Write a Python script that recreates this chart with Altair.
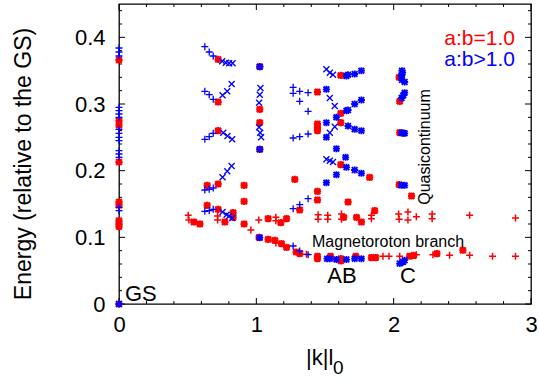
import altair as alt
import pandas as pd

# ---------------- data ----------------
RS_k = [0, 0, 0, 0, 0, 0, 0, 0, 0, 0,
        0.722, 0.722, 0.722, 0.722, 0.642, 0.642, 0.722, 0.831, 0.831, 0.771, 0.545, 0.589,
        0.911, 0.911, 0.911,
        1.025, 1.025, 1.025, 1.025, 1.02,
        1.086, 1.086, 1.178, 1.22, 1.183, 1.22, 1.29, 1.316, 1.135,
        1.28, 1.316,
        1.445, 1.445, 1.445, 1.445, 1.445, 1.445, 1.445, 1.445,
        1.54, 1.615, 1.615, 1.724, 1.838, 1.869,
        1.615, 1.615, 1.615, 1.615, 1.636,
        1.668, 1.825, 1.73, 1.765, 1.862,
        2.04, 2.044, 2.044, 2.04, 2.13,
        2.116, 2.145, 2.315, 2.504]
RS_E = [0, 0.366, 0.275, 0.268, 0.213, 0.153, 0.148, 0.125, 0.12, 0.116,
        0.367, 0.303, 0.260, 0.180, 0.178, 0.148, 0.142, 0.137, 0.130, 0.123, 0.123, 0.120,
        0.178, 0.154, 0.120,
        0.356, 0.292, 0.272, 0.232, 0.100,
        0.128, 0.097, 0.122, 0.128, 0.0905, 0.085, 0.078, 0.0757, 0.0955,
        0.187, 0.141,
        0.318, 0.27, 0.265, 0.26, 0.169, 0.156, 0.0716, 0.068,
        0.0716, 0.068, 0.0646, 0.0716, 0.0697, 0.0697,
        0.343, 0.286, 0.272, 0.209, 0.130,
        0.153, 0.190, 0.130, 0.123, 0.140,
        0.340, 0.304, 0.257, 0.179, 0.162,
        0.0716, 0.073, 0.0756, 0.0806]

RP_k = [0.504, 0.509, 0.718, 0.718, 0.96, 1.018, 1.142, 1.142, 1.142, 1.365,
        1.45, 1.45, 1.52, 1.52, 1.62, 1.62, 1.838, 1.838, 1.922, 1.966, 2.044,
        2.036, 2.04, 2.104, 2.104, 2.165, 2.165, 2.28, 2.28, 2.286, 2.407,
        2.553, 2.553, 2.72, 2.887, 2.887]
RP_E = [0.133, 0.126, 0.132, 0.126, 0.111, 0.126, 0.130, 0.125, 0.0915, 0.0746,
        0.134, 0.127, 0.133, 0.127, 0.135, 0.127, 0.133, 0.128, 0.0716, 0.0716, 0.0716,
        0.135, 0.127, 0.138, 0.126, 0.131, 0.074, 0.135, 0.128, 0.074, 0.073,
        0.133, 0.073, 0.0716, 0.129, 0.0716]

BP_k = [0, 0, 0, 0, 0, 0, 0, 0, 0, 0, 0, 0, 0, 0, 0, 0,
        0.625, 0.657, 0.686, 0.625, 0.657, 0.686, 0.625, 0.657, 0.686,
        0.625, 0.657, 0.686, 0.625, 0.657, 0.686,
        1.268, 1.268, 1.316, 1.377, 1.316, 1.377, 1.268, 1.316, 1.377,
        1.377, 1.316, 1.268, 1.268, 1.316, 1.377]
BP_E = [0.384, 0.378, 0.372, 0.295, 0.29, 0.285, 0.28, 0.262, 0.256, 0.25, 0.245,
        0.23, 0.225, 0.22, 0.145, 0.14,
        0.386, 0.378, 0.372, 0.319, 0.314, 0.307, 0.247, 0.251, 0.256,
        0.171, 0.172, 0.174, 0.139, 0.140, 0.142,
        0.325, 0.316, 0.319, 0.317, 0.304, 0.289, 0.249, 0.251, 0.255,
        0.158, 0.149, 0.143, 0.087, 0.0796, 0.074]

BX_k = [0.751, 0.778, 0.802, 0.827, 0.82, 0.788, 0.754, 0.759, 0.790, 0.824,
        0.754, 0.788, 0.82, 0.754, 0.783, 0.802, 0.824,
        1.03, 1.025, 1.02, 1.02, 1.028, 1.035,
        1.51, 1.535, 1.558, 1.535, 1.571, 1.535, 1.571, 1.51, 1.535, 1.558]
BX_E = [0.364, 0.362, 0.361, 0.361, 0.330, 0.319, 0.313, 0.257, 0.252, 0.247,
        0.190, 0.199, 0.207, 0.138, 0.134, 0.132, 0.129,
        0.324, 0.314, 0.302, 0.265, 0.257, 0.250,
        0.352, 0.347, 0.344, 0.309, 0.297, 0.257, 0.266, 0.217, 0.215, 0.213]

BS_k = [0, 1.025, 1.025, 1.025,
        1.656, 1.668, 1.716, 1.765,
        1.51, 1.656, 1.668, 1.716, 1.765,
        1.51, 1.583, 1.668, 1.716, 1.765, 1.51, 1.583,
        1.65, 1.656, 1.716, 1.765, 1.583, 1.51,
        1.515, 1.535, 1.583, 1.656, 1.716, 1.765, 2.044, 2.068, 2.08,
        2.06, 2.065, 2.056, 2.06, 2.08, 2.058, 2.07, 2.08, 2.058, 2.07, 2.08, 2.056, 2.08]
BS_E = [0, 0.356, 0.232, 0.0995,
        0.342, 0.344, 0.345, 0.350,
        0.322, 0.29, 0.291, 0.30, 0.306,
        0.272, 0.280, 0.267, 0.262, 0.26, 0.25, 0.233,
        0.22, 0.205, 0.201, 0.196, 0.194, 0.182,
        0.068, 0.068, 0.0667, 0.0667, 0.068, 0.068, 0.0607, 0.0631, 0.0657,
        0.350, 0.347, 0.342, 0.336, 0.333, 0.309, 0.313, 0.317, 0.257, 0.256, 0.256, 0.178, 0.178]

X_MAJOR = [0, 1, 2, 3]
X_MINOR = [0.2, 0.4, 0.6, 0.8, 1.2, 1.4, 1.6, 1.8, 2.2, 2.4, 2.6, 2.8]
Y_MAJOR = [0, 0.1, 0.2, 0.3, 0.4]
Y_MINOR = [0.02, 0.04, 0.06, 0.08, 0.12, 0.14, 0.16, 0.18, 0.22, 0.24, 0.26, 0.28,
           0.32, 0.34, 0.36, 0.38, 0.42, 0.44]

LEGEND = ["a:b=1.0", "a:b>1.0"]
Y_TITLE = "Energy (relative to the GS)"
X_TITLE = "|k|l"
X_TITLE_SUB = "0"

# ---------------- chart ----------------
W, H = 412, 300
FONT = "Liberation Sans"
RED, BLUE = "#ff0000", "#0000ff"
xs = alt.Scale(domain=[0, 3], nice=False, zero=False)
ys = alt.Scale(domain=[0, 0.45], nice=False, zero=False)

XAX = alt.Axis(values=X_MAJOR, format="d", title=None, grid=False, ticks=False, domain=False,
               labelFont=FONT, labelFontSize=22, labelFontWeight="normal", labelColor="black",
               labelPadding=10, labelFlush=False)
YAX = alt.Axis(values=Y_MAJOR, format=".1~f", title=None, grid=False, ticks=False, domain=False,
               labelFont=FONT, labelFontSize=22, labelFontWeight="normal", labelColor="black",
               labelPadding=14, labelFlush=False)


def X(field="k"):
    return alt.X(f"{field}:Q", scale=xs, axis=XAX)


def Y(field="E"):
    return alt.Y(f"{field}:Q", scale=ys, axis=YAX)


PLUS = "M-1,0L1,0M0,-1L0,1"
CROSS = "M-1,-1L1,1M-1,1L1,-1"
STAR = "M-1,0L1,0M0,-1L0,1M-0.8,-0.8L0.8,0.8M-0.8,0.8L0.8,-0.8"


def pts(k, e, path, color, size, sw):
    df = pd.DataFrame({"k": k, "E": e})
    return alt.Chart(df).mark_point(shape=path, filled=False, color=color, size=size,
                                    strokeWidth=sw, opacity=1).encode(x=X(), y=Y())


def xticks(vals, length):
    df = pd.DataFrame({"k": vals})
    b = alt.Chart(df).mark_rule(color="black", strokeWidth=1)
    return [b.encode(x=X(), y=alt.value(H), y2=alt.value(H - length)),
            b.encode(x=X(), y=alt.value(0), y2=alt.value(length))]


def yticks(vals, length):
    df = pd.DataFrame({"E": vals})
    b = alt.Chart(df).mark_rule(color="black", strokeWidth=1)
    return [b.encode(y=Y(), x=alt.value(0), x2=alt.value(length)),
            b.encode(y=Y(), x=alt.value(W), x2=alt.value(W - length))]


def txt(t, x, y, size, color="black", align="left", angle=0, baseline="alphabetic"):
    kw = dict(font=FONT, fontSize=size, color=color, align=align, baseline=baseline,
              fontWeight="normal")
    if angle:
        kw["angle"] = angle
    return alt.Chart(pd.DataFrame({"t": [t]})).mark_text(**kw).encode(
        text="t:N", x=alt.value(x), y=alt.value(y))


layers = []
layers += xticks(X_MAJOR, 6) + xticks(X_MINOR, 3) + yticks(Y_MAJOR, 6) + yticks(Y_MINOR, 3)
layers += [
    pts(RS_k, RS_E, STAR, RED, 52, 2.2),
    pts(RP_k, RP_E, PLUS, RED, 49, 1.5),
    pts(BP_k, BP_E, PLUS, BLUE, 49, 1.3),
    pts(BX_k, BX_E, CROSS, BLUE, 36, 1.3),
    pts(BS_k, BS_E, STAR, BLUE, 50, 1.8),
]
layers += [
    txt("GS", 6, 297, 22),
    txt("AB", 223, 279, 22, align="center"),
    txt("C", 289, 279, 22, align="center"),
    txt("Magnetoroton branch", 193, 243, 16),
    txt("Quasicontinuum", 306, 143, 16, align="center", angle=270, baseline="middle"),
    txt(LEGEND[0], 396, 41, 21, color=RED, align="right"),
    txt(LEGEND[1], 396, 62, 21, color=BLUE, align="right"),
    txt(Y_TITLE, -95, 160, 23, align="center", angle=270, baseline="middle"),
    txt(X_TITLE, 187, 361, 22),
    txt(X_TITLE_SUB, 214, 370, 19),
]

chart = alt.layer(*layers).properties(
    width=W, height=H,
    padding={"left": 119, "top": 4, "right": 8, "bottom": 82},
    autosize=alt.AutoSizeParams(type="none"),
    background="white",
).configure_view(stroke="black", strokeWidth=1.3)

chart.save("out.html", embed_options={"renderer": "svg", "actions": False})
